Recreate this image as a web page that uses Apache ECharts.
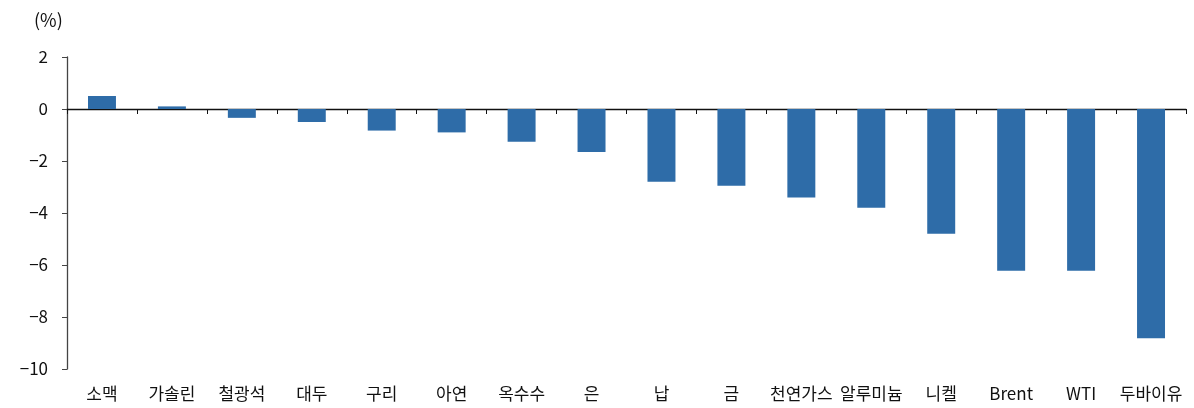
<!DOCTYPE html>
<html><head><meta charset="utf-8">
<script src="https://cdn.jsdelivr.net/npm/echarts@6/dist/echarts.min.js"></script>
<style>html,body{margin:0;padding:0;background:#fff}#c{width:1194px;height:408px}</style>
</head><body><div id="c"></div>
<script>
const categories = ['소맥','가솔린','철광석','대두','구리','아연','옥수수','은','납','금','천연가스','알루미늄','니켈','Brent','WTI','두바이유'];
const values = [0.5, 0.1, -0.34, -0.5, -0.83, -0.9, -1.26, -1.65, -2.8, -2.95, -3.4, -3.8, -4.8, -6.22, -6.22, -8.82];
const yTicks = {min: -10, max: 2, interval: 2};
const unitLabel = '(%)';

const font = '"Noto Sans CJK KR", "Noto Sans", sans-serif';
const chart = echarts.init(document.getElementById('c'));
chart.setOption({
  animation: false,
  graphic: [{type:'text', left: 34, top: 11, style:{text: unitLabel, font: '18px ' + font, fill:'#111'}}],
  grid: {left: 67, right: 8, top: 57, bottom: 39},
  xAxis: [{
    type: 'category', data: categories, position: 'bottom',
    axisLine: {onZero: true, lineStyle: {color: '#111', width: 1.3}},
    axisTick: {show: true, alignWithLabel: false, length: 5, lineStyle: {color:'#111'}},
    axisLabel: {show: false}
  }, {
    type: 'category', data: categories, position: 'bottom',
    axisLine: {show: false, onZero: false}, axisTick: {show: false},
    axisLabel: {show: true, color: '#111', fontSize: 17, fontFamily: font, margin: 16, interval: 0}
  }],
  yAxis: {
    type: 'value', min: yTicks.min, max: yTicks.max, interval: yTicks.interval,
    axisLine: {show: true, lineStyle: {color: '#444', width: 1.3}},
    axisTick: {show: true, length: 5, lineStyle: {color:'#444'}},
    splitLine: {show: false},
    axisLabel: {color: '#111', fontSize: 17, fontFamily: font, margin: 19,
      formatter: v => v < 0 ? '\u2212' + Math.abs(v) : String(v)}
  },
  series: [{
    type: 'bar', data: values, barWidth: '40%', xAxisIndex: 0,
    itemStyle: {color: '#2E6CA8'}
  }]
});
</script></body></html>
